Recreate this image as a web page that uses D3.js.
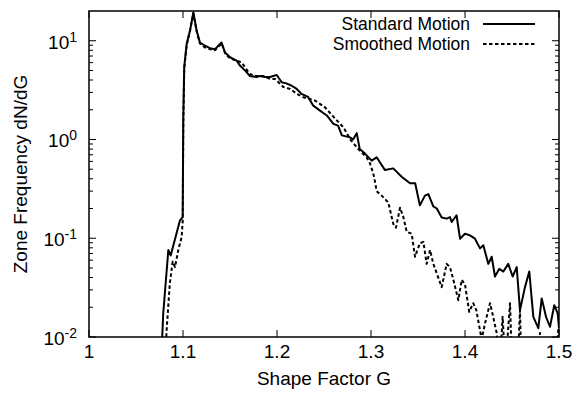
<!DOCTYPE html>
<html>
<head>
<meta charset="utf-8">
<script src="https://cdn.jsdelivr.net/npm/d3@7"></script>
<style>
    body { margin: 0; background: #fff; }
    text { font-family: "Liberation Sans", Arial, Helvetica, sans-serif; fill: #000; }
</style>
</head>
<body>
<div id="chart" style="width: 577px; height: 396px;"></div>
<script>
// Shape factor G and zone frequency for the standard motion curve
const standardG = [
    1.0765, 1.0790, 1.0844, 1.0869, 1.0968, 1.0997, 1.1003, 1.1013, 1.1039, 1.1074,
    1.1110, 1.1146, 1.1180, 1.1234, 1.1287, 1.1340, 1.1376, 1.1410, 1.1447, 1.1500,
    1.1570, 1.1606, 1.1660, 1.1710, 1.1780, 1.1820, 1.1870, 1.1926, 1.1960, 1.1997,
    1.2050, 1.2100, 1.2156, 1.2210, 1.2260, 1.2330, 1.2386, 1.2457, 1.2530, 1.2600,
    1.2650, 1.2690, 1.2777, 1.2810, 1.2848, 1.2880, 1.2936, 1.3007, 1.3060, 1.3149,
    1.3237, 1.3326, 1.3415, 1.3470, 1.3520, 1.3574, 1.3610, 1.3663, 1.3700, 1.3752,
    1.3805, 1.3840, 1.3858, 1.3910, 1.3947, 1.4000, 1.4053, 1.4106, 1.4160, 1.4195,
    1.4248, 1.4284, 1.4319, 1.4365, 1.4408, 1.4460, 1.4507, 1.4550, 1.4585, 1.4638,
    1.4684, 1.4727, 1.4780, 1.4816, 1.4862, 1.4904, 1.4950, 1.4986, 1.5000
];
const standardValues = [
    0.005, 0.0175, 0.076, 0.067, 0.152, 0.164, 1.6, 5.4, 9.3, 12.6,
    19.3, 12.6, 9.6, 8.9, 8.4, 8.2, 8.9, 9.6, 7.6, 6.8,
    6.3, 5.6, 5.0, 4.4, 4.3, 4.4, 4.3, 4.3, 4.4, 4.5,
    3.8, 3.7, 3.5, 3.25, 2.9, 2.7, 2.2, 1.96, 1.75, 1.44,
    1.38, 1.1, 1.05, 1.0, 1.16, 0.8, 0.72, 0.61, 0.66, 0.49,
    0.51, 0.42, 0.36, 0.36, 0.215, 0.27, 0.28, 0.21, 0.20, 0.162,
    0.158, 0.164, 0.146, 0.171, 0.099, 0.111, 0.107, 0.099, 0.079, 0.085,
    0.055, 0.065, 0.041, 0.049, 0.046, 0.055, 0.041, 0.051, 0.0187, 0.032,
    0.046, 0.016, 0.0123, 0.0246, 0.016, 0.0127, 0.021, 0.0173, 0.0123
];

// Shape factor G and zone frequency for the smoothed motion curve
const smoothedG = [
    1.0805, 1.0826, 1.0860, 1.0890, 1.0915, 1.0950, 1.0986, 1.0997, 1.1003, 1.1013,
    1.1039, 1.1074, 1.1110, 1.1146, 1.1180, 1.1230, 1.1290, 1.1340, 1.1376, 1.1410,
    1.1450, 1.1500, 1.1570, 1.1624, 1.1660, 1.1710, 1.1780, 1.1850, 1.1926, 1.1980,
    1.2067, 1.2140, 1.2210, 1.2280, 1.2404, 1.2510, 1.2620, 1.2706, 1.2780, 1.2865,
    1.2954, 1.2990, 1.3025, 1.3040, 1.3060, 1.3114, 1.3184, 1.3237, 1.3266, 1.3309,
    1.3344, 1.3380, 1.3433, 1.3468, 1.3520, 1.3557, 1.3592, 1.3628, 1.3663, 1.3700,
    1.3752, 1.3805, 1.3840, 1.3876, 1.3929, 1.3965, 1.4000, 1.4045, 1.4088, 1.4120,
    1.4177, 1.4213, 1.4266, 1.4300, 1.4337, 1.4370, 1.4400, 1.4430, 1.4479, 1.4500,
    1.4560, 1.4585, 1.4600, 1.4780, 1.4798, 1.4820, 1.4970, 1.4993, 1.5000
];
const smoothedValues = [
    0.005, 0.0118, 0.035, 0.058, 0.051, 0.076, 0.103, 0.15, 1.5, 5.2,
    9.0, 12.5, 19.0, 12.3, 9.4, 8.6, 8.2, 8.0, 8.7, 9.4,
    7.4, 6.6, 6.3, 6.0, 5.4, 4.6, 4.4, 4.4, 4.1, 4.1,
    3.4, 3.25, 2.9, 2.68, 2.48, 2.12, 1.62, 1.33, 1.0, 0.8,
    0.66, 0.57, 0.45, 0.385, 0.30, 0.27, 0.23, 0.14, 0.128, 0.204,
    0.164, 0.116, 0.111, 0.065, 0.089, 0.092, 0.055, 0.076, 0.055, 0.044,
    0.032, 0.055, 0.051, 0.038, 0.0236, 0.038, 0.034, 0.018, 0.022, 0.0188,
    0.0095, 0.0137, 0.022, 0.016, 0.011, 0.005, 0.016, 0.005, 0.022, 0.005,
    0.005, 0.0187, 0.005, 0.005, 0.011, 0.005, 0.005, 0.0123, 0.005
];

const seriesNames = ["Standard Motion", "Smoothed Motion"];
const xTickValues = [1, 1.1, 1.2, 1.3, 1.4, 1.5];
const yTickExponents = [-2, -1, 0, 1];
const xLabel = "Shape Factor G";
const yLabel = "Zone Frequency dN/dG";


class FrequencyChart {

    constructor(_parentElement) {
        this.parentElement = _parentElement;
        this.initVis();
    }

    initVis() {
        let vis = this;

        vis.margin = {top: 11, right: 18, bottom: 59, left: 89};
        vis.width = 577 - vis.margin.left - vis.margin.right;
        vis.height = 396 - vis.margin.top - vis.margin.bottom;

        vis.svg = d3.select(`#${vis.parentElement}`).append("svg")
            .attr("width", 577)
            .attr("height", 396)
            .append("g")
            .attr("transform", `translate(${vis.margin.left}, ${vis.margin.top})`);

        vis.svg.append("clipPath")
            .attr("id", "plot-clip")
            .append("rect")
            .attr("width", vis.width)
            .attr("height", vis.height);

        vis.xScale = d3.scaleLinear()
            .domain([1, 1.5])
            .range([0, vis.width]);

        vis.yScale = d3.scaleLog()
            .domain([0.01, 20])
            .range([vis.height, 0]);

        vis.wrangleData();
    }

    wrangleData() {
        let vis = this;

        vis.series = [
            {name: seriesNames[0], dash: null, points: standardG.map((g, i) => ({g: g, v: standardValues[i]}))},
            {name: seriesNames[1], dash: "3.5,2.5", points: smoothedG.map((g, i) => ({g: g, v: smoothedValues[i]}))}
        ];

        // minor ticks for each decade, inside the domain
        vis.minorTicks = [];
        yTickExponents.forEach(e => {
            for (let m = 2; m <= 9; m++) {
                let v = m * Math.pow(10, e);
                if (v < 20) vis.minorTicks.push(v);
            }
        });

        vis.updateVis();
    }

    updateVis() {
        let vis = this;
        const majorLen = 7, minorLen = 4;

        // Ticks on all four sides, pointing inward
        let ticks = vis.svg.append("g").attr("class", "ticks")
            .attr("stroke", "#000").attr("stroke-width", 1);

        xTickValues.forEach(t => {
            let x = vis.xScale(t);
            ticks.append("line").attr("x1", x).attr("x2", x).attr("y1", vis.height).attr("y2", vis.height - majorLen);
            ticks.append("line").attr("x1", x).attr("x2", x).attr("y1", 0).attr("y2", majorLen);
        });

        yTickExponents.forEach(e => {
            let y = vis.yScale(Math.pow(10, e));
            ticks.append("line").attr("x1", 0).attr("x2", majorLen).attr("y1", y).attr("y2", y);
            ticks.append("line").attr("x1", vis.width).attr("x2", vis.width - majorLen).attr("y1", y).attr("y2", y);
        });

        vis.minorTicks.forEach(v => {
            let y = vis.yScale(v);
            ticks.append("line").attr("x1", 0).attr("x2", minorLen).attr("y1", y).attr("y2", y);
            ticks.append("line").attr("x1", vis.width).attr("x2", vis.width - minorLen).attr("y1", y).attr("y2", y);
        });

        // Tick labels
        vis.svg.selectAll(".x-label")
            .data(xTickValues)
            .join("text")
            .attr("class", "x-label")
            .attr("x", d => vis.xScale(d))
            .attr("y", vis.height + 21)
            .attr("text-anchor", "middle")
            .style("font-size", "19px")
            .text(d => d3.format("~g")(d));

        let yLabels = vis.svg.selectAll(".y-label")
            .data(yTickExponents)
            .join("text")
            .attr("class", "y-label")
            .attr("x", -12)
            .attr("y", d => vis.yScale(Math.pow(10, d)) + 8)
            .attr("text-anchor", "end")
            .style("font-size", "19px");
        yLabels.append("tspan").text("10");
        yLabels.append("tspan")
            .attr("dy", -7)
            .style("font-size", "14px")
            .text(d => d);

        // Axis titles
        vis.svg.append("text")
            .attr("x", vis.width / 2)
            .attr("y", vis.height + 48)
            .attr("text-anchor", "middle")
            .style("font-size", "19px")
            .text(xLabel);

        vis.svg.append("text")
            .attr("transform", "rotate(-90)")
            .attr("x", -vis.height / 2)
            .attr("y", -62)
            .attr("text-anchor", "middle")
            .style("font-size", "19px")
            .text(yLabel);

        // Curves
        let line = d3.line()
            .x(d => vis.xScale(d.g))
            .y(d => vis.yScale(d.v));

        vis.svg.append("g")
            .attr("clip-path", "url(#plot-clip)")
            .selectAll(".curve")
            .data(vis.series)
            .join("path")
            .attr("class", "curve")
            .attr("d", d => line(d.points))
            .attr("fill", "none")
            .attr("stroke", "#000")
            .attr("stroke-width", 2)
            .attr("stroke-linejoin", "round")
            .attr("stroke-dasharray", d => d.dash);

        // Frame
        vis.svg.append("rect")
            .attr("width", vis.width)
            .attr("height", vis.height)
            .attr("fill", "none")
            .attr("stroke", "#000")
            .attr("stroke-width", 1.5);

        // Legend
        let legend = vis.svg.append("g")
            .attr("class", "legend")
            .attr("transform", `translate(${vis.width - 89}, 19)`);

        let entries = legend.selectAll(".entry")
            .data(vis.series)
            .join("g")
            .attr("class", "entry")
            .attr("transform", (d, i) => `translate(0, ${i * 20})`);

        entries.append("text")
            .attr("x", 0)
            .attr("y", 0)
            .attr("text-anchor", "end")
            .style("font-size", "17.5px")
            .text(d => d.name);

        entries.append("line")
            .attr("x1", 13)
            .attr("x2", 65)
            .attr("y1", -6)
            .attr("y2", -6)
            .attr("stroke", "#000")
            .attr("stroke-width", 2)
            .attr("stroke-dasharray", d => d.dash);
    }
}

new FrequencyChart("chart");
</script>
</body>
</html>
